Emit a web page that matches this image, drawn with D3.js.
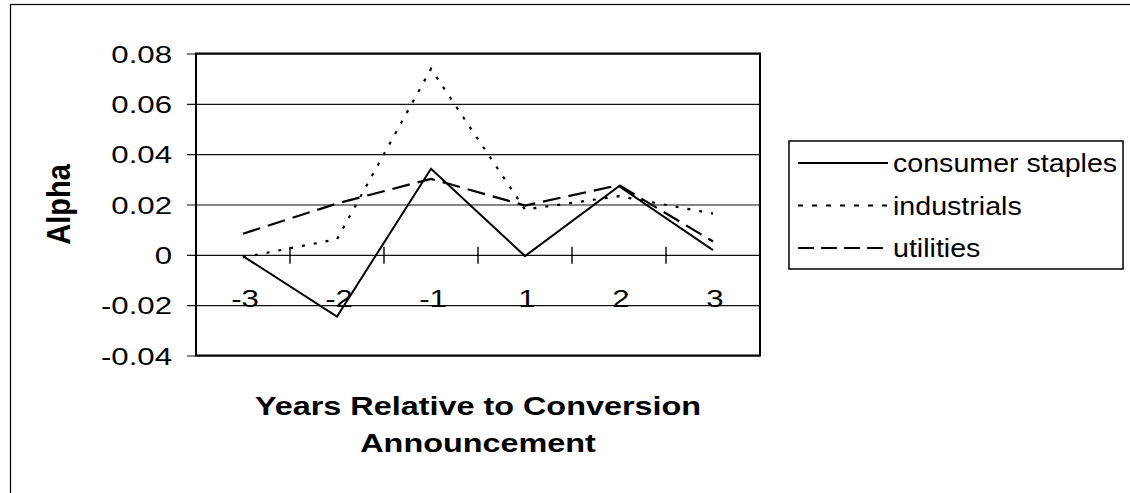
<!DOCTYPE html>
<html>
<head>
<meta charset="utf-8">
<script src="https://cdn.jsdelivr.net/npm/d3@7/dist/d3.min.js"></script>
<style>
  html, body { margin: 0; padding: 0; background: #fff; }
  svg { display: block; }
  text { font-family: "Liberation Sans", Arial, sans-serif; fill: #000; }
</style>
</head>
<body>
<svg id="chart" width="1130" height="493"></svg>
<script>
// Years relative to the conversion announcement
const categories = ["-3", "-2", "-1", "1", "2", "3"];

// Alpha by sector
const consumerStaples = [-0.0005, -0.0245, 0.0342, -0.0005, 0.0273, 0.0019];
const industrials     = [-0.0010, 0.0062, 0.0739, 0.0180, 0.0233, 0.0164];
const utilities       = [0.0084, 0.0204, 0.0302, 0.0196, 0.0277, 0.0053];

const seriesNames = ["consumer staples", "industrials", "utilities"];
const yTicks = [-0.04, -0.02, 0, 0.02, 0.04, 0.06, 0.08];
const yTickLabels = ["-0.04", "-0.02", "0", "0.02", "0.04", "0.06", "0.08"];

const series = [
  { name: seriesNames[0], values: consumerStaples, dash: null,    width: 2 },
  { name: seriesNames[1], values: industrials,     dash: "3,9",   width: 2.2 },
  { name: seriesNames[2], values: utilities,       dash: "18,8",  width: 2.2 }
];

const svg = d3.select("#chart");
const plot = { left: 196, right: 760, top: 53.5, bottom: 355.5 };

const x = d3.scaleBand().domain(categories).range([plot.left, plot.right]).padding(0);
const y = d3.scaleLinear().domain([-0.04, 0.08]).range([plot.bottom, plot.top]);
const cx = d => x(d) + x.bandwidth() / 2;

// the chart's lettering is set wide
const WIDE = 1.3;

// outer chart frame
svg.append("rect")
  .attr("x", 10.5).attr("y", 4.5).attr("width", 1140).attr("height", 520)
  .attr("fill", "none").attr("stroke", "#000").attr("stroke-width", 1.2);

// horizontal gridlines with small outer tick marks
const yAxis = d3.axisLeft(y)
  .tickValues(yTicks)
  .tickSize(-(plot.right - plot.left))
  .tickSizeOuter(0)
  .tickFormat((d, i) => yTickLabels[i]);

const gy = svg.append("g").attr("transform", `translate(${plot.left},0)`).call(yAxis);
gy.select(".domain").remove();
gy.selectAll(".tick line")
  .attr("x1", -9)
  .attr("stroke", "#111").attr("stroke-width", 1.2);
gy.selectAll(".tick text")
  .attr("x", 0)
  .attr("transform", `translate(-24,0) scale(${WIDE},1)`)
  .attr("dy", "0.36em")
  .style("font-size", "24px")
  .attr("font-family", "Liberation Sans, Arial, sans-serif");

// plot frame
svg.append("rect")
  .attr("x", plot.left).attr("y", plot.top)
  .attr("width", plot.right - plot.left).attr("height", plot.bottom - plot.top)
  .attr("fill", "none").attr("stroke", "#000").attr("stroke-width", 2);

// category axis on the zero line: ticks between categories
const boundaries = categories.slice(1).map(c => x(c));
svg.append("g").selectAll("line")
  .data(boundaries)
  .join("line")
  .attr("x1", d => d).attr("x2", d => d)
  .attr("y1", y(0) - 8).attr("y2", y(0) + 9)
  .attr("stroke", "#000").attr("stroke-width", 1.4);

svg.append("g").selectAll("text")
  .data(categories)
  .join("text")
  .attr("transform", d => `translate(${cx(d) + 2},306.5) scale(${WIDE},1)`)
  .attr("text-anchor", "middle")
  .style("font-size", "24px")
  .text(d => d);

// series lines
const line = d3.line()
  .x((v, i) => cx(categories[i]))
  .y(v => y(v));

svg.append("g").selectAll("path")
  .data(series)
  .join("path")
  .attr("d", s => line(s.values))
  .attr("fill", "none")
  .attr("stroke", "#000")
  .attr("stroke-width", s => s.width)
  .attr("stroke-dasharray", s => s.dash)
  .attr("stroke-linejoin", "miter");

// axis titles
svg.append("text")
  .attr("transform", `translate(70,${(plot.top + plot.bottom) / 2}) rotate(-90) scale(1,1.15)`)
  .attr("text-anchor", "middle")
  .style("font-size", "29px")
  .style("font-weight", "bold")
  .text("Alpha");

const titleLines = ["Years Relative to Conversion", "Announcement"];
const titleY = [415, 452];
svg.append("g").selectAll("text")
  .data(titleLines)
  .join("text")
  .attr("transform", (d, i) => `translate(${(plot.left + plot.right) / 2},${titleY[i]}) scale(1.27,1)`)
  .attr("text-anchor", "middle")
  .style("font-size", "25.5px")
  .style("font-weight", "bold")
  .text(d => d);

// legend
const legend = { x: 789, y: 141, w: 334, h: 128 };
svg.append("rect")
  .attr("x", legend.x).attr("y", legend.y).attr("width", legend.w).attr("height", legend.h)
  .attr("fill", "#fff").attr("stroke", "#000").attr("stroke-width", 1.5);

const rowY = [163, 205.5, 248];
const lg = svg.append("g").selectAll("g")
  .data(series)
  .join("g")
  .attr("transform", (s, i) => `translate(${legend.x},${rowY[i]})`);

lg.append("line")
  .attr("x1", 9).attr("x2", 99)
  .attr("y1", 0).attr("y2", 0)
  .attr("stroke", "#000")
  .attr("stroke-width", s => s.width)
  .attr("stroke-dasharray", (s, i) => i === 1 ? "5,9" : (i === 2 ? "16,7" : s.dash));

lg.append("text")
  .attr("transform", `translate(104,0) scale(1.1,1)`)
  .attr("dy", "0.35em")
  .style("font-size", "26px")
  .text(s => s.name);
</script>
</body>
</html>
